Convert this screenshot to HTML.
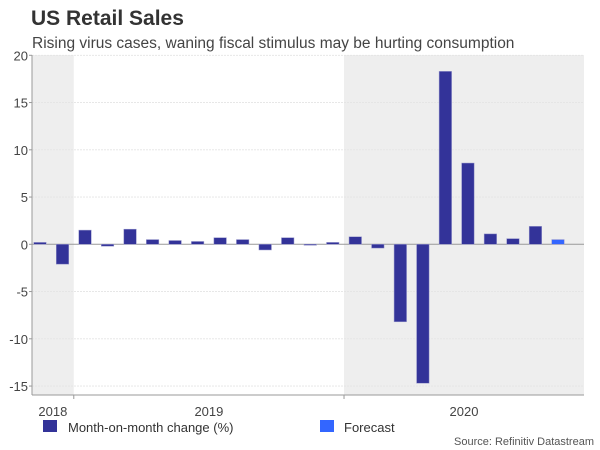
<!DOCTYPE html>
<html><head><meta charset="utf-8">
<style>
body{margin:0;background:#fff;}
svg{display:block;font-family:"Liberation Sans",Arial,sans-serif;}
</style></head>
<body>
<svg id="chart" width="600" height="450" viewBox="0 0 600 450">
<text x="31" y="25" font-size="21" font-weight="bold" fill="#333">US Retail Sales</text>
<text x="32" y="48" font-size="15.5" fill="#444">Rising virus cases, waning fiscal stimulus may be hurting consumption</text>
<g id="shade"></g>
<g id="grid"></g>
<g id="bars"></g>
<g id="axes"></g>
<g>
<rect x="43" y="420" width="14" height="12" fill="#333399"/>
<text x="68" y="432" font-size="13" fill="#333">Month-on-month change (%)</text>
<rect x="320" y="420" width="14" height="12" fill="#3366ff"/>
<text x="344" y="432" font-size="13" fill="#333">Forecast</text>
</g>
<text x="594" y="445" font-size="11" fill="#555" text-anchor="end">Source: Refinitiv Datastream</text>
</svg>
<script>
const categories = ["Nov18","Dec18","Jan19","Feb19","Mar19","Apr19","May19","Jun19","Jul19","Aug19","Sep19","Oct19","Nov19","Dec19","Jan20","Feb20","Mar20","Apr20","May20","Jun20","Jul20","Aug20","Sep20","Oct20"];
const values = [0.2,-2.1,1.5,-0.2,1.6,0.5,0.4,0.3,0.7,0.5,-0.6,0.7,-0.1,0.2,0.8,-0.4,-8.2,-14.7,18.3,8.6,1.1,0.6,1.9,0.5];
const isForecast = [0,0,0,0,0,0,0,0,0,0,0,0,0,0,0,0,0,0,0,0,0,0,0,1];
const yTicks = [20,15,10,5,0,-5,-10,-15];
const years = ["2018","2019","2020"];
const yearStartIdx = [0,2,14];
const yearEndIdx = [1,13,25];

const NS="http://www.w3.org/2000/svg";
const L=32,R=584,T=55,B=395;
const x0=28.74, band=22.52, bw=12.5;
function y(v){return 244.3 - v*9.45;}
function xc(i){return x0 + band*(i+0.5);}
function mk(tag,attrs,parent){const e=document.createElementNS(NS,tag);for(const k in attrs)e.setAttribute(k,attrs[k]);document.getElementById(parent).appendChild(e);return e;}

[0,2].forEach(k=>{
  const xa=Math.max(L,x0+band*yearStartIdx[k]);
  const xb=Math.min(R,x0+band*(yearEndIdx[k]+1));
  const r=mk('rect',{x:xa,y:T,width:xb-xa,height:B-T,fill:'#eeeeee'},'shade');
  
  
});
yTicks.forEach(t=>{
  const g=mk('line',{x1:L,x2:R,y1:y(t),y2:y(t),stroke:t===0?'#999':'#e4e4e4','stroke-width':t===0?1:0.8,'stroke-dasharray':t===0?'':'2,1'},'grid');
  
  
  const tx=mk('text',{x:L-4,y:y(t)+5,'font-size':13,fill:'#444','text-anchor':'end'},'axes');
  tx.textContent=t;
  
  
  const tk=mk('line',{x1:L-3,x2:L,y1:y(t),y2:y(t),stroke:'#999'},'axes');
  
  
});
values.forEach((v,i)=>{
  const top=Math.min(y(v),y(0)), h=Math.max(Math.abs(y(v)-y(0)),1);
  const b=mk('rect',{x:xc(i)-bw/2,y:top,width:bw,height:h,fill:isForecast[i]?'#3366ff':'#333399',stroke:'#9999cc','stroke-width':0.5},'bars');
  
  
});
let a=mk('line',{x1:L,x2:L,y1:T,y2:B,stroke:'#999'},'axes');


a=mk('line',{x1:L,x2:R,y1:B,y2:B,stroke:'#999'},'axes');


years.forEach((yr,k)=>{
  if(k>0){
    const xb=x0+band*yearStartIdx[k];
    const t=mk('line',{x1:xb,x2:xb,y1:B,y2:B+4,stroke:'#999'},'axes');
    
    
  }
  const xa=Math.max(L,x0+band*yearStartIdx[k]);
  const xb=Math.min(R,x0+band*(yearEndIdx[k]+1));
  const tx=mk('text',{x:(xa+xb)/2,y:416,'font-size':13,fill:'#444','text-anchor':'middle'},'axes');
  tx.textContent=yr;
  
  
});
</script>
</body></html>
